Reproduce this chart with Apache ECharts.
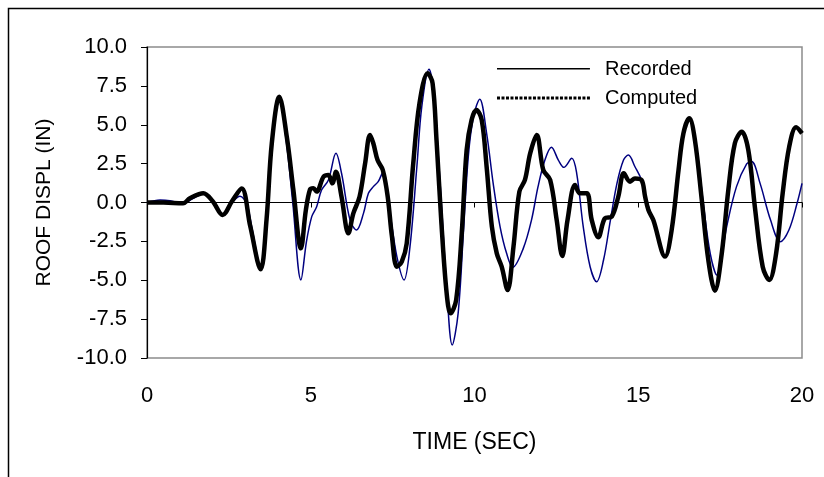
<!DOCTYPE html>
<html>
<head>
<meta charset="utf-8">
<script src="https://cdn.jsdelivr.net/npm/echarts@6/dist/echarts.min.js"></script>
<style>html,body{margin:0;padding:0;background:#fff}#c{width:824px;height:477px}</style>
</head>
<body>
<div id="c"></div>
<script>
// Reference data
var timeComputed = [0,0.5,1.1,1.31,1.72,2.0,2.31,2.6,2.89,3.15,3.47,3.65,3.81,4.04,4.27,4.47,4.70,4.85,4.98,5.08,5.18,5.39,5.54,5.66,5.77,5.94,6.15,6.30,6.49,6.66,6.81,6.91,7.04,7.20,7.35,7.48,7.63,7.78,7.93,8.13,8.32,8.57,8.72,8.84,8.99,9.15,9.27,9.44,9.61,9.76,9.91,10.06,10.22,10.37,10.53,10.68,10.83,11.01,11.19,11.37,11.54,11.70,11.90,12.10,12.31,12.51,12.68,12.84,13.07,13.22,13.43,13.58,13.78,13.98,14.19,14.39,14.56,14.75,14.90,15.10,15.21,15.31,15.46,15.82,16.02,16.23,16.38,16.56,16.73,16.94,17.14,17.34,17.55,17.75,17.95,18.16,18.36,18.56,18.80,19.00,19.21,19.41,19.61,19.82,20.0];
var dispComputed = [0,0,-0.05,0.27,0.6,0.1,-0.8,0.1,0.9,-1.5,-4.3,-1.1,3.8,6.8,4.2,0.8,-2.95,-0.5,0.85,0.92,0.7,1.66,1.77,1.23,1.98,0.37,-1.98,-0.7,0.37,2.52,4.34,3.81,2.73,2.09,0.37,-2.2,-4.13,-3.8,-2.63,2.52,6.38,8.31,7.67,4.02,-1.34,-5.84,-7.13,-6.27,-1.98,3.38,5.31,5.95,5.31,2.3,-1.55,-3.27,-4.13,-5.63,-2.84,0.7,1.45,3.16,4.34,2.09,1.45,-1.13,-3.44,-1.13,1.13,0.59,0.59,-1.13,-2.24,-1.02,-0.91,0.37,1.88,1.34,1.55,1.45,0.37,-0.48,-1.13,-3.48,-1.77,2.09,4.45,5.41,4.02,0.16,-3.7,-5.67,-3.27,0.8,3.81,4.55,3.38,-0.27,-4.13,-4.98,-3.27,0.59,3.59,4.84,4.45];
var timeRecorded = [0,0.4,0.7,1.1,1.4,1.72,2.0,2.31,2.6,2.84,3.04,3.2,3.47,3.65,3.81,4.04,4.25,4.45,4.70,4.87,5.03,5.18,5.33,5.54,5.77,5.94,6.20,6.40,6.61,6.76,6.91,7.06,7.21,7.42,7.63,7.85,8.03,8.24,8.39,8.61,8.74,8.95,9.15,9.32,9.50,9.66,9.81,9.97,10.16,10.37,10.57,10.78,10.98,11.17,11.49,11.74,11.94,12.15,12.35,12.56,12.73,12.97,13.12,13.32,13.53,13.73,13.94,14.15,14.35,14.55,14.70,14.90,15.10,15.25,15.46,15.82,16.02,16.23,16.38,16.56,16.75,17.0,17.2,17.40,17.70,18.0,18.31,18.46,18.72,19.04,19.34,19.60,19.85,20.0];
var dispRecorded = [0,0.16,0.12,-0.05,0.25,0.55,0.1,-0.8,0.0,0.4,-0.05,-1.6,-4.2,-1.1,3.8,6.7,4.0,0.0,-4.98,-2.5,-0.91,-0.27,0.8,1.45,3.16,1.88,-1.13,-1.77,-0.7,0.59,1.02,1.34,1.98,-0.7,-3.48,-4.98,-2.84,2.3,6.16,8.57,7.23,1.23,-5.41,-9.16,-7.13,-1.98,2.95,5.52,6.64,4.45,1.23,-1.55,-3.27,-4.17,-2.95,-1.13,1.02,2.73,3.55,2.73,2.26,2.84,1.88,-1.55,-4.13,-5.09,-3.7,-1.13,1.23,2.73,3.05,2.3,1.45,0.2,-1.2,-3.4,-1.8,2.0,4.4,5.35,4.0,-0.3,-3.3,-4.66,-1.55,1.02,2.48,2.63,1.23,-1.13,-2.52,-1.77,-0.05,1.23];
var xTicks = [0,5,10,15,20];
var seriesNames = ['Recorded', 'Computed'];

function pairs(t, v) { return t.map(function (x, i) { return [x, v[i]]; }); }

// legend icons: thin solid line / dotted thick line, with tiny corner dots fixing the icon box
var BOX = ' M0,0h0.01v0.01h-0.01z M103,14h0.01v0.01h-0.01z';
var solidIcon = 'path://M0,6h93v1.6h-93z' + BOX;
var dotted = '';
for (var dx = 0; dx < 92; dx += 4.5) { dotted += 'M' + dx + ',5.5h3v3h-3z '; }
var dottedIcon = 'path://' + dotted + BOX;

var FONT = '"Liberation Sans", Arial, sans-serif';
var chart = echarts.init(document.getElementById('c'), null, {renderer: 'canvas'});
chart.setOption({
  animation: false,
  backgroundColor: '#fff',
  textStyle: {fontFamily: FONT},
  graphic: [{
    type: 'rect', silent: true, z: 100,
    shape: {x: 8.5, y: 8.5, width: 900, height: 600},
    style: {fill: 'none', stroke: '#000', lineWidth: 1.5}
  }],
  grid: {left: 147, right: 22, top: 47, bottom: 119, show: true, borderColor: '#8c8c8c', borderWidth: 1.5, backgroundColor: 'transparent'},
  legend: {
    show: true, orient: 'vertical', left: 492, top: 54, itemWidth: 103, itemHeight: 14, itemGap: 9,
    textStyle: {fontFamily: FONT, fontSize: 20, color: '#000'},
    data: [
      {name: seriesNames[0], icon: solidIcon, itemStyle: {color: '#000', borderWidth: 0, opacity: 1}},
      {name: seriesNames[1], icon: dottedIcon, itemStyle: {color: '#000', borderWidth: 0, opacity: 1}}
    ]
  },
  xAxis: [{
    type: 'value', min: 0, max: 20, interval: 5,
    axisLine: {show: true, onZero: true, lineStyle: {color: '#000', width: 1}},
    axisTick: {show: true, inside: false, length: 5, lineStyle: {color: '#000'}},
    axisLabel: {show: false}, splitLine: {show: false}
  }, {
    type: 'value', min: 0, max: 20, interval: 5, position: 'bottom',
    axisLine: {show: false, onZero: false},
    axisTick: {show: false},
    axisLabel: {show: true, margin: 27, fontSize: 22, color: '#000', fontFamily: FONT,
      customValues: xTicks},
    splitLine: {show: false},
    name: 'TIME (SEC)', nameLocation: 'middle', nameGap: 73,
    nameTextStyle: {fontSize: 23, color: '#000', fontFamily: FONT}
  }],
  yAxis: {
    type: 'value', min: -10, max: 10, interval: 2.5,
    axisLine: {show: true, onZero: false, lineStyle: {color: '#000', width: 1.2}},
    axisTick: {show: true, inside: false, length: 6, lineStyle: {color: '#000'}},
    axisLabel: {margin: 20, fontSize: 22, color: '#000', fontFamily: FONT,
      formatter: function (v) { return v.toFixed(1); }},
    splitLine: {show: false},
    name: 'ROOF DISPL (IN)', nameLocation: 'middle', nameGap: 92, nameRotate: 90,
    nameTextStyle: {fontSize: 21, color: '#000', fontFamily: FONT}
  },
  series: [{
    name: seriesNames[0], type: 'line', xAxisIndex: 0, symbol: 'none', smooth: 0.35,
    data: pairs(timeRecorded, dispRecorded),
    lineStyle: {color: '#000080', width: 1.5}, itemStyle: {color: '#000080'}, z: 2
  }, {
    name: seriesNames[1], type: 'line', xAxisIndex: 0, symbol: 'none', smooth: 0.35,
    data: pairs(timeComputed, dispComputed),
    lineStyle: {color: '#000', width: 4.5}, itemStyle: {color: '#000'}, z: 3
  }]
});
</script>
</body>
</html>
